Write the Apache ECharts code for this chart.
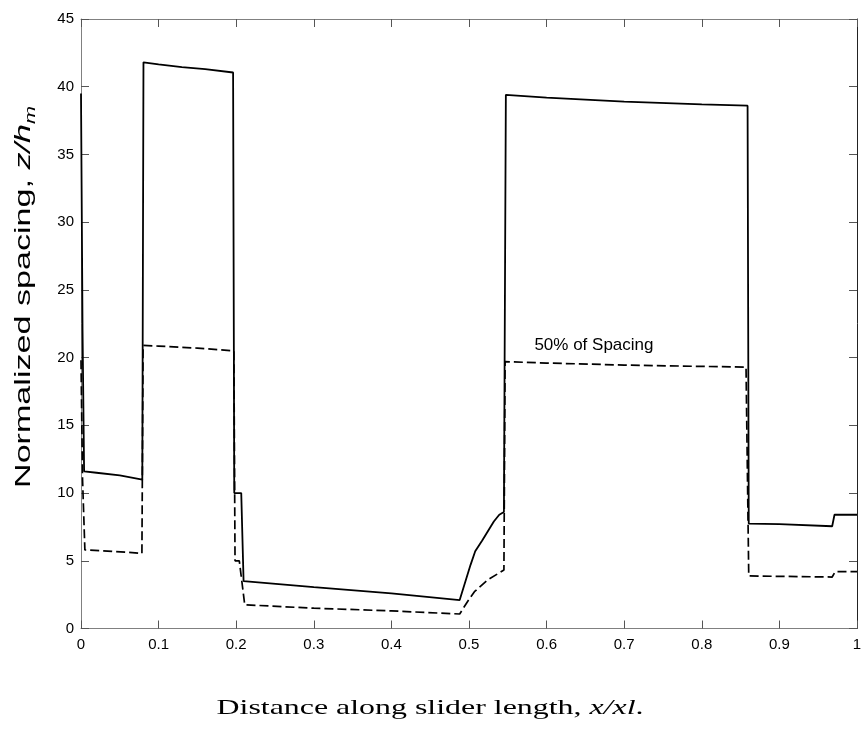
<!DOCTYPE html>
<html><head><meta charset="utf-8">
<script src="https://cdn.jsdelivr.net/npm/echarts@6/dist/echarts.min.js"></script>
<style>html,body{margin:0;padding:0;background:#fff}#c{width:866px;height:740px}</style>
</head><body><div id="c"></div>
<script>
// Full spacing (solid line)
const xSolid = [0, 0.002, 0.004, 0.02, 0.05, 0.079, 0.0805, 0.1, 0.13, 0.16, 0.196, 0.1975, 0.2065, 0.2095, 0.3, 0.4, 0.488, 0.502, 0.508, 0.517, 0.532, 0.539, 0.545, 0.5475, 0.6, 0.7, 0.8, 0.859, 0.8605, 0.9, 0.968, 0.971, 1.0];
const ySolid = [39.5, 22, 11.6, 11.5, 11.3, 11.0, 41.8, 41.65, 41.45, 41.3, 41.05, 10.0, 10.0, 3.5, 3.05, 2.6, 2.1, 4.7, 5.7, 6.5, 7.9, 8.4, 8.6, 39.4, 39.2, 38.9, 38.7, 38.6, 7.75, 7.7, 7.55, 8.4, 8.4];
// 50% of spacing (dashed line)
const xDashed = [0, 0.002, 0.005, 0.04, 0.0785, 0.08, 0.1, 0.15, 0.197, 0.1985, 0.204, 0.211, 0.3, 0.4, 0.488, 0.498, 0.507, 0.524, 0.545, 0.5465, 0.6, 0.7, 0.8, 0.857, 0.8605, 0.9, 0.968, 0.972, 1.0];
const yDashed = [19.8, 11, 5.8, 5.7, 5.55, 20.9, 20.85, 20.7, 20.5, 5.0, 5.0, 1.75, 1.5, 1.3, 1.07, 1.98, 2.72, 3.58, 4.32, 19.7, 19.6, 19.45, 19.35, 19.3, 3.88, 3.85, 3.8, 4.2, 4.2];
// tick labels
const xTickLabels = ['0', '0.1', '0.2', '0.3', '0.4', '0.5', '0.6', '0.7', '0.8', '0.9', '1'];
const yTickLabels = ['0', '5', '10', '15', '20', '25', '30', '35', '40', '45'];
// annotation
const annotationText = '50% of Spacing';
const annotationAt = [0.661, 20.9];

const zip = (xs, ys) => xs.map((x, i) => [x, ys[i]]);
const chart = echarts.init(document.getElementById('c'), null, {renderer: 'canvas'});
const sans = 'Liberation Sans, Arial, sans-serif';
const serif = 'Liberation Serif, Times New Roman, serif';
const tickStyle = {inside: true, length: 8, lineStyle: {color: '#555', width: 1}};
const axisGray = {color: '#808080', width: 1};

chart.setOption({
  animation: false,
  backgroundColor: '#fff',
  grid: {left: 81, right: 9, top: 19, bottom: 111.5, containLabel: false},
  xAxis: [{
    type: 'value', min: 0, max: 1, interval: 0.1, position: 'bottom',
    axisLine: {show: true, onZero: false, lineStyle: axisGray},
    axisTick: tickStyle,
    axisLabel: {margin: 9, color: '#000', fontFamily: sans, fontSize: 15,
      formatter: v => xTickLabels[Math.round(v * 10)]},
    splitLine: {show: false}
  }, {
    type: 'value', min: 0, max: 1, interval: 0.1, position: 'top',
    axisLine: {show: true, onZero: false, lineStyle: axisGray},
    axisTick: tickStyle, axisLabel: {show: false}, splitLine: {show: false}
  }],
  yAxis: [{
    type: 'value', min: 0, max: 45, interval: 5, position: 'left',
    axisLine: {show: true, onZero: false, lineStyle: axisGray},
    axisTick: tickStyle,
    axisLabel: {margin: 7, color: '#000', fontFamily: sans, fontSize: 15,
      formatter: v => yTickLabels[Math.round(v / 5)]},
    splitLine: {show: false}
  }, {
    type: 'value', min: 0, max: 45, interval: 5, position: 'right',
    axisLine: {show: true, onZero: false, lineStyle: {color: '#222', width: 1}},
    axisTick: tickStyle, axisLabel: {show: false}, splitLine: {show: false}
  }],
  series: [{
    type: 'line', data: zip(xSolid, ySolid), showSymbol: false, silent: true,
    lineStyle: {color: '#000', width: 1.8}
  }, {
    type: 'line', data: zip(xDashed, yDashed), showSymbol: false, silent: true,
    lineStyle: {color: '#000', width: 1.7, type: [9, 4]},
    markPoint: {
      silent: true, symbol: 'rect', symbolSize: 1, itemStyle: {color: 'rgba(0,0,0,0)'},
      data: [{coord: annotationAt, label: {show: true, position: 'inside', formatter: annotationText,
        color: '#000', fontFamily: sans, fontSize: 17}}]
    }
  }],
  graphic: [{
    type: 'text', x: 24, y: 297, rotation: Math.PI / 2, scaleX: 1.55, scaleY: 1,
    style: {
      text: '{n|Normalized spacing, }{i|z/h}{s|m}',
      align: 'center', verticalAlign: 'middle',
      rich: {
        n: {fontFamily: sans, fontSize: 22, lineHeight: 28, verticalAlign: 'middle', fill: '#000'},
        i: {fontFamily: sans, fontSize: 22, fontStyle: 'italic', lineHeight: 28, verticalAlign: 'middle', fill: '#000'},
        s: {fontFamily: sans, fontSize: 14, fontStyle: 'italic', padding: [14, 0, 0, 0], verticalAlign: 'bottom', fill: '#000'}
      }
    }
  }, {
    type: 'text', x: 430, y: 708, scaleX: 1.45, scaleY: 1,
    style: {
      text: '{n|Distance along slider length, }{i|x/xl}{n|.}',
      align: 'center', verticalAlign: 'middle',
      rich: {
        n: {fontFamily: serif, fontSize: 22, fill: '#000'},
        i: {fontFamily: serif, fontSize: 22, fontStyle: 'italic', fill: '#000'}
      }
    }
  }]
});
</script>
</body></html>
